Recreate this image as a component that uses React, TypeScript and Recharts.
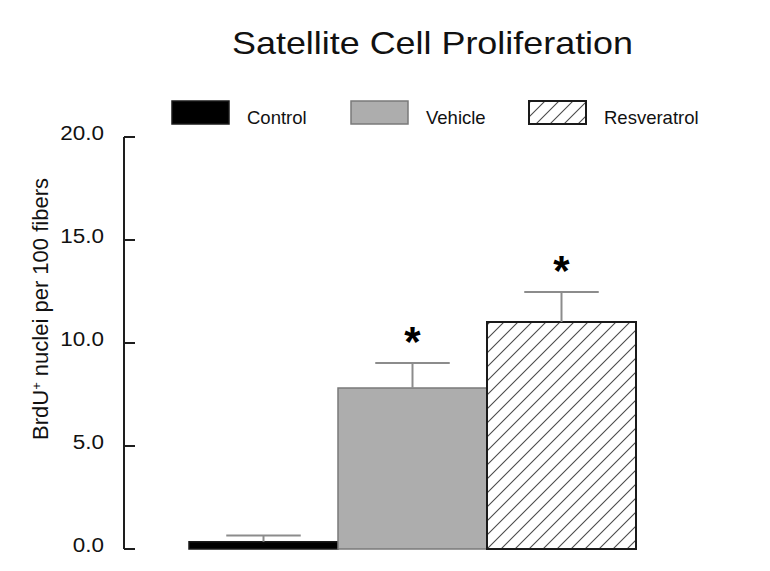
import React from 'react';
import { BarChart, Bar, XAxis, YAxis, Legend, LabelList } from 'recharts';

// values
const groups = ['Control', 'Vehicle', 'Resveratrol'];
const means = [0.35, 7.82, 11.02];
const sems = [0.3, 1.21, 1.46];
const significant = [false, true, true];
const yTicks = [0, 5, 10, 15, 20];

const data = [
  groups.reduce<Record<string, number | string>>(
    (row, g, i) => ({ ...row, [g]: means[i], [`${g}Err`]: sems[i] }),
    { name: 'BrdU' }
  ),
];

const FONT = '"Liberation Sans", Arial, Helvetica, sans-serif';
const AXIS = '#1e1e1e';
const ERR = '#8c8c8c';

const barStyle: Record<string, { fill: string; stroke: string; strokeWidth: number }> = {
  Control: { fill: '#000000', stroke: '#1a1a1a', strokeWidth: 1.5 },
  Vehicle: { fill: '#adadad', stroke: '#7a7a7a', strokeWidth: 1.5 },
  Resveratrol: { fill: 'url(#hatch)', stroke: '#1a1a1a', strokeWidth: 2 },
};

const legendX = [172, 351, 529];

// upward-only error bar drawn on the stacked error segment
const ErrorShape = (props: any) => {
  const { x, y, width, height } = props;
  const cx = x + width / 2;
  return (
    <g>
      <line x1={cx} x2={cx} y1={y + height} y2={y} stroke={ERR} strokeWidth={2} />
      <line x1={x + width / 4} x2={x + (width * 3) / 4} y1={y} y2={y} stroke={ERR} strokeWidth={2} />
    </g>
  );
};

const Asterisk = (props: any) => {
  const { x, y, width } = props;
  return (
    <text
      x={x + width / 2}
      y={y - 7}
      textAnchor="middle"
      fontFamily={FONT}
      fontWeight="bold"
      fontSize={42}
      fill="#000"
    >
      *
    </text>
  );
};

// label left of the axis, tick pointing into the plot
const YTick = (props: any) => {
  const { x, y, payload } = props;
  return (
    <g>
      <line x1={x + 20} x2={x + 31} y1={y} y2={y} stroke={AXIS} strokeWidth={2} />
      <text
        transform={`translate(${x},${y + 3}) scale(1.07,1)`}
        textAnchor="end"
        fontFamily={FONT}
        fontSize={21}
        fill="#111"
      >
        {Number(payload.value).toFixed(1)}
      </text>
    </g>
  );
};

const renderLegend = () => (
  <svg width={770} height={36}>
    {groups.map((g, i) => (
      <g key={g}>
        <rect x={legendX[i]} y={1} width={57} height={23} {...barStyle[g]} />
        <text x={legendX[i] + 75} y={24} fontFamily={FONT} fontSize={18.5} fill="#111">
          {g}
        </text>
      </g>
    ))}
  </svg>
);

export default function App() {
  return (
    <div style={{ position: 'absolute', left: 0, top: 0, width: 770, height: 571, background: '#fff' }}>
      <BarChart
        width={770}
        height={571}
        data={data}
        margin={{ top: 137, right: 18, bottom: 22, left: 0 }}
        barCategoryGap={0}
        barGap={0}
      >
        <XAxis
          dataKey="name"
          tick={false}
          tickLine={false}
          height={0}
          padding={{ left: 65, right: 115 }}
          axisLine={{ stroke: AXIS, strokeWidth: 2 }}
        />
        <YAxis
          domain={[0, 20]}
          ticks={yTicks}
          width={124}
          tickSize={0}
          tickMargin={20}
          tickLine={false}
          tick={<YTick />}
          axisLine={{ stroke: AXIS, strokeWidth: 2 }}
        />
        <Legend
          layout="horizontal"
          verticalAlign="middle"
          align="center"
          content={renderLegend}
          wrapperStyle={{ top: 100, left: 0, width: 770, height: 36 }}
        />
        {groups.map((g, i) => [
          <Bar
            key={g}
            dataKey={g}
            name={g}
            stackId={g}
            {...barStyle[g]}
            isAnimationActive={false}
          />,
          <Bar
            key={`${g}Err`}
            dataKey={`${g}Err`}
            stackId={g}
            legendType="none"
            shape={<ErrorShape />}
            isAnimationActive={false}
          >
            {significant[i] && <LabelList dataKey={`${g}Err`} content={<Asterisk />} />}
          </Bar>,
        ])}
      </BarChart>
      <svg
        width={770}
        height={571}
        style={{ position: 'absolute', left: 0, top: 0, pointerEvents: 'none' }}
      >
        <defs>
          <pattern id="hatch" patternUnits="userSpaceOnUse" width={14} height={14}>
            <rect width={14} height={14} fill="#fff" />
            <path
              d="M0,14 L14,0 M-3.5,3.5 L3.5,-3.5 M10.5,17.5 L17.5,10.5"
              stroke="#4a4a4a"
              strokeWidth={1.1}
            />
          </pattern>
        </defs>
        <text
          x={432.5}
          y={54}
          textAnchor="middle"
          fontFamily={FONT}
          fontSize={32}
          fill="#111"
          textLength={401}
          lengthAdjust="spacingAndGlyphs"
        >
          Satellite Cell Proliferation
        </text>
        <text
          transform="translate(48,309) rotate(-90)"
          textAnchor="middle"
          fontFamily={FONT}
          fontSize={22}
          fill="#111"
          textLength={262}
          lengthAdjust="spacingAndGlyphs"
        >
          BrdU<tspan baselineShift="super" fontSize={13}>+</tspan> nuclei per 100 fibers
        </text>
      </svg>
    </div>
  );
}
